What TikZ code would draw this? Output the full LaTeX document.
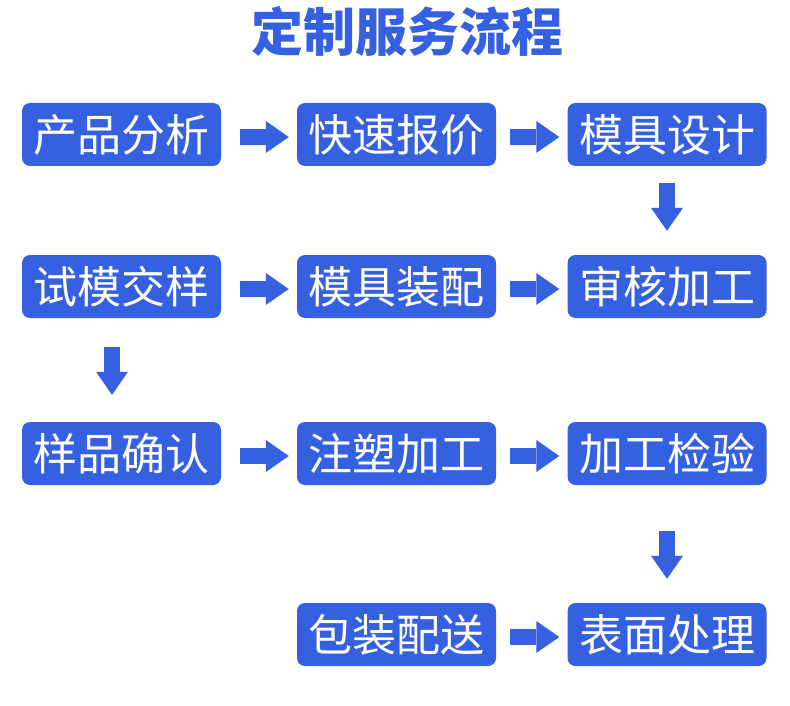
\documentclass[tikz,border=0pt]{standalone}
\usepackage{fontspec}
\newfontfamily\cjk{Noto Sans CJK SC}
\usetikzlibrary{arrows.meta}
\definecolor{flowblue}{HTML}{3561E1}

\tikzset{
  stepbox/.style={fill=flowblue, text=white, rounded corners=8pt, inner sep=0pt,
    minimum width=199pt, minimum height=63pt, font=\cjk\fontsize{44}{44}\selectfont},
  flowarrow/.style={draw=flowblue, line width=16pt, shorten <=#1, shorten >=8pt,
    -{Triangle[length=23pt,width=32pt,line width=0pt]}},
  flowarrow/.default=17pt
}

\begin{document}
\begin{tikzpicture}[x=1pt,y=-1pt]
\useasboundingbox (0,0) rectangle (790,706);

% Title
\node [text=flowblue, font=\cjk\bfseries\fontsize{52}{52}\selectfont] (title) at (407.5,31.5) {定制服务流程};

% Boxes
\node [stepbox] (fenxi) at (121.5,134.5) {产品分析};
\node [stepbox] (baojia) at (396.5,134.5) {快速报价};
\node [stepbox] (sheji) at (667,134.5) {模具设计};

\node [stepbox] (shimo) at (121.5,286.5) {试模交样};
\node [stepbox] (zhuangpei) at (396.5,286.5) {模具装配};
\node [stepbox] (shenhe) at (667,286.5) {审核加工};

\node [stepbox] (queren) at (121.5,453.5) {样品确认};
\node [stepbox] (zhusu) at (396.5,453.5) {注塑加工};
\node [stepbox] (jianyan) at (667,453.5) {加工检验};

\node [stepbox] (peisong) at (396.5,634.5) {包装配送};
\node [stepbox] (chuli) at (667,634.5) {表面处理};

% Arrows
\draw [flowarrow=19pt] ([yshift=-2.5pt]fenxi.east) -- ([yshift=-2.5pt]baojia.west);
\draw [flowarrow=14pt] ([yshift=-2.5pt]baojia.east) -- ([yshift=-2.5pt]sheji.west);
\draw [flowarrow, shorten >=24pt] (sheji.south) -- (shenhe.north);

\draw [flowarrow=19pt] ([yshift=-2.5pt]shimo.east) -- ([yshift=-2.5pt]zhuangpei.west);
\draw [flowarrow=14pt] ([yshift=-2.5pt]zhuangpei.east) -- ([yshift=-2.5pt]shenhe.west);
\draw [flowarrow=29pt, shorten >=27pt] ([xshift=-9.5pt]shimo.south) -- ([xshift=-9.5pt]queren.north);

\draw [flowarrow=19pt] ([yshift=-2.5pt]queren.east) -- ([yshift=-2.5pt]zhusu.west);
\draw [flowarrow=14pt] ([yshift=-2.5pt]zhusu.east) -- ([yshift=-2.5pt]jianyan.west);
\draw [flowarrow=46pt, shorten >=24pt] (jianyan.south) -- (chuli.north);

\draw [flowarrow=14pt] ([yshift=-2.5pt]peisong.east) -- ([yshift=-2.5pt]chuli.west);
\end{tikzpicture}
\end{document}
